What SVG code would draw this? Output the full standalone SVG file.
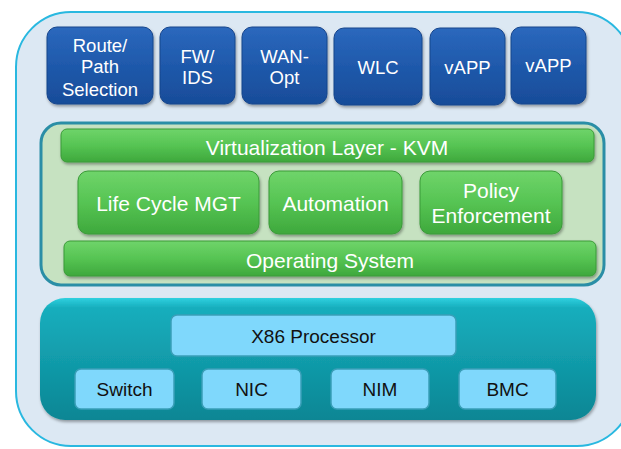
<svg xmlns="http://www.w3.org/2000/svg" width="621" height="449" viewBox="0 0 621 449">
<defs>
<linearGradient id="gBlue" x1="0" y1="0" x2="0" y2="1">
<stop offset="0" stop-color="#2b68bd"/><stop offset="0.5" stop-color="#1f59ab"/><stop offset="1" stop-color="#184c99"/>
</linearGradient>
<linearGradient id="gGreen" x1="0" y1="0" x2="0" y2="1">
<stop offset="0" stop-color="#6fd46a"/><stop offset="0.5" stop-color="#56c453"/><stop offset="1" stop-color="#3ea83c"/>
</linearGradient>
<linearGradient id="gTeal" x1="0" y1="0" x2="0" y2="1">
<stop offset="0" stop-color="#2fd0df"/><stop offset="0.08" stop-color="#17aebd"/><stop offset="1" stop-color="#0b8694"/>
</linearGradient>
<filter id="sh" x="-10%" y="-10%" width="125%" height="130%">
<feDropShadow dx="1" dy="2" stdDeviation="1.5" flood-color="#000" flood-opacity="0.35"/>
</filter>
</defs>
<style>
.blue{fill:url(#gBlue);stroke:#17468c;stroke-width:1;filter:url(#sh)}
.green{fill:url(#gGreen);stroke:#3a9a38;stroke-width:1;filter:url(#sh)}
.lb{fill:#7fd8fc;stroke:#3a9fb8;stroke-width:1.5}
.wt{font-family:"Liberation Sans",Arial,sans-serif;fill:#fff;text-anchor:middle}
.t1{font-size:18.5px}
.t2{font-size:21px}
.bt{font-family:"Liberation Sans",Arial,sans-serif;fill:#111;text-anchor:middle;font-size:19px}
</style>
<rect id="outer" x="16" y="12" width="616" height="434" rx="55" fill="#dce8f3" stroke="#29b8e0" stroke-width="2"/>

<g id="route"><rect class="blue" x="47" y="27" width="106" height="77" rx="10"/>
<text class="wt t1" x="100" y="52">Route/</text><text class="wt t1" x="100" y="73">Path</text><text class="wt t1" x="100" y="96">Selection</text></g>
<g id="fw"><rect class="blue" x="160" y="27" width="75" height="77" rx="10"/>
<text class="wt t1" x="197.5" y="63">FW/</text><text class="wt t1" x="197.5" y="84">IDS</text></g>
<g id="wan"><rect class="blue" x="242" y="27" width="85" height="77" rx="10"/>
<text class="wt t1" x="284.5" y="63">WAN-</text><text class="wt t1" x="284.5" y="84">Opt</text></g>
<g id="wlc"><rect class="blue" x="334" y="28" width="88" height="77" rx="10"/>
<text class="wt t1" x="378" y="74">WLC</text></g>
<g id="vapp1"><rect class="blue" x="430" y="28" width="75" height="77" rx="10"/>
<text class="wt t1" x="467.5" y="74">vAPP</text></g>
<g id="vapp2"><rect class="blue" x="511" y="27" width="75" height="77" rx="10"/>
<text class="wt t1" x="548.5" y="72">vAPP</text></g>

<g id="sw-layer"><rect x="41" y="123" width="563" height="162" rx="20" fill="#c6e2c1" stroke="#2a8ea6" stroke-width="3"/></g>
<g id="virt"><rect class="green" x="61" y="129" width="533" height="33" rx="6"/>
<text class="wt t2" x="327" y="155">Virtualization Layer - KVM</text></g>
<g id="lcm"><rect class="green" x="78" y="171" width="181" height="63" rx="10"/>
<text class="wt t2" x="168.5" y="211">Life Cycle MGT</text></g>
<g id="auto"><rect class="green" x="269" y="171" width="133" height="63" rx="10"/>
<text class="wt t2" x="335.5" y="211">Automation</text></g>
<g id="policy"><rect class="green" x="420" y="171" width="142" height="63" rx="10"/>
<text class="wt t2" x="491" y="198">Policy</text><text class="wt t2" x="491" y="223">Enforcement</text></g>
<g id="os"><rect class="green" x="64" y="241" width="532" height="35" rx="6"/>
<text class="wt t2" x="330" y="268">Operating System</text></g>

<g id="hw"><rect x="40" y="298" width="556" height="122" rx="25" fill="url(#gTeal)" filter="url(#sh)"/></g>
<g id="x86"><rect class="lb" x="171" y="315" width="285" height="41" rx="6"/>
<text class="bt" x="313.5" y="343">X86 Processor</text></g>
<g id="switch"><rect class="lb" x="75" y="369" width="99" height="40" rx="6"/>
<text class="bt" x="124.5" y="396">Switch</text></g>
<g id="nic"><rect class="lb" x="202" y="369" width="99" height="40" rx="6"/>
<text class="bt" x="251.5" y="396">NIC</text></g>
<g id="nim"><rect class="lb" x="331" y="369" width="98" height="40" rx="6"/>
<text class="bt" x="380" y="396">NIM</text></g>
<g id="bmc"><rect class="lb" x="459" y="369" width="97" height="40" rx="6"/>
<text class="bt" x="507.5" y="396">BMC</text></g>
<g id="connectors"/>
</svg>
